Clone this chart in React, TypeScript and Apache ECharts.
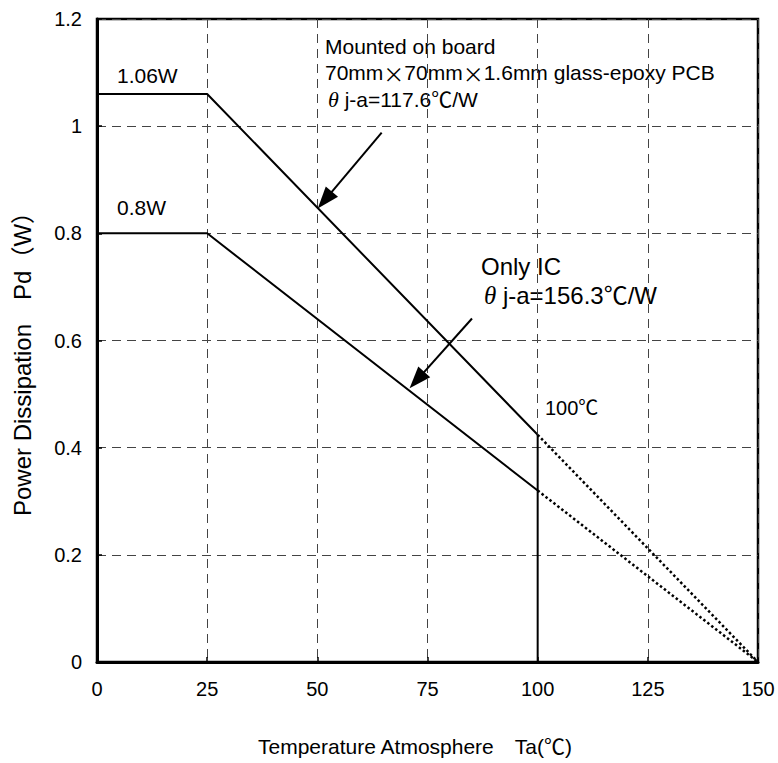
import React, { useEffect, useRef } from "react";
import * as echarts from "echarts";

// ---- data ----
const xTicks = [0, 25, 50, 75, 100, 125, 150];
const boardSolid: [number, number][] = [[0, 1.06], [25, 1.06], [100, 0.424]];
const boardDotted: [number, number][] = [[100, 0.424], [150, 0]];
const icSolid: [number, number][] = [[0, 0.8], [25, 0.8], [100, 0.32]];
const icDotted: [number, number][] = [[100, 0.32], [150, 0]];
const limitLine: [number, number][] = [[100, 0], [100, 0.424]];
// arrow: [start, centre of arrow head]
const boardArrow: [number, number][] = [[64.6, 0.988], [51.7, 0.862]];
const icArrow: [number, number][] = [[85.1, 0.641], [72.6, 0.526]];

const FONT = "'Liberation Sans', Arial, 'Noto Sans CJK JP', sans-serif";
const CJK = "'Noto Sans CJK JP', sans-serif";
const SERIF_I = "'Liberation Serif', serif";

export default function App() {
  const ref = useRef<HTMLDivElement>(null);
  useEffect(() => {
    document.body.style.margin = "0";
    if (!ref.current) return;
    const chart = echarts.init(ref.current, undefined, { renderer: "svg" });
    const solid = { color: "#000", width: 2, type: "solid" as const };
    const dotted = { color: "#000", width: 2.5, type: [2.5, 2.5] as any };
    chart.setOption({
      animation: false,
      backgroundColor: "#fff",
      textStyle: { fontFamily: FONT },
      grid: {
        left: 97,
        right: 20,
        top: 19,
        bottom: 101,
        show: true,
        borderColor: "#000",
        borderWidth: 2.5,
      },
      xAxis: {
        type: "value",
        min: 0,
        max: 150,
        interval: 25,
        axisLine: { show: true, lineStyle: { color: "#000", width: 3 } },
        axisTick: { show: true, inside: true, length: 5, lineStyle: { color: "#000", width: 1.5 } },
        axisLabel: { color: "#000", fontSize: 20, margin: 17, fontFamily: FONT,
          formatter: (v: number) => (xTicks.includes(v) ? String(v) : "") },
        splitLine: { show: true, lineStyle: { color: "#444", width: 1, type: [9, 6] } },
      },
      yAxis: {
        type: "value",
        min: 0,
        max: 1.2,
        interval: 0.2,
        axisLine: { show: true, lineStyle: { color: "#000", width: 3 } },
        axisTick: { show: true, inside: true, length: 5, lineStyle: { color: "#000", width: 1.5 } },
        axisLabel: { color: "#000", fontSize: 20, margin: 15, fontFamily: FONT },
        splitLine: { show: true, lineStyle: { color: "#444", width: 1, type: [9, 6] } },
      },
      series: [
        {
          type: "line", data: boardSolid, symbol: "none", lineStyle: solid, silent: true,
          markLine: {
            silent: true,
            symbol: ["none", "triangle"],
            symbolSize: [16, 22],
            label: { show: false },
            lineStyle: { color: "#000", width: 2, type: "solid" },
            data: [
              [{ coord: boardArrow[0] }, { coord: boardArrow[1] }],
              [{ coord: icArrow[0] }, { coord: icArrow[1] }],
            ],
          },
        },
        { type: "line", data: boardDotted, symbol: "none", lineStyle: dotted, silent: true },
        { type: "line", data: icSolid, symbol: "none", lineStyle: solid, silent: true },
        { type: "line", data: icDotted, symbol: "none", lineStyle: dotted, silent: true },
        { type: "line", data: limitLine, symbol: "none", lineStyle: solid, silent: true },
      ],
      graphic: [
        { type: "text", left: 117, top: 65, style: { text: "1.06W", font: `21px ${FONT}`, fill: "#000" } },
        { type: "text", left: 117, top: 197, style: { text: "0.8W", font: `21px ${FONT}`, fill: "#000" } },
        { type: "text", left: 325, top: 36, style: { text: "Mounted on board", font: `21px ${FONT}`, fill: "#000" } },
        {
          type: "text", left: 325, top: 62,
          style: {
            text: "70mm{x|×}70mm{x|×}1.6mm glass-epoxy PCB",
            font: `21px ${FONT}`, fill: "#000",
            rich: { x: { fontFamily: CJK, fontSize: 21, fill: "#000" } },
          } as any,
        },
        {
          type: "text", left: 328, top: 88,
          style: {
            text: "{t|θ} j-a=117.6℃/W", font: `21px ${FONT}`, fill: "#000",
            rich: { t: { fontFamily: SERIF_I, fontStyle: "italic", fontSize: 22, fill: "#000" } },
          } as any,
        },
        { type: "text", left: 481, top: 254, style: { text: "Only IC", font: `24px ${FONT}`, fill: "#000" } },
        {
          type: "text", left: 484, top: 283,
          style: {
            text: "{t|θ} j-a=156.3℃/W", font: `24px ${FONT}`, fill: "#000",
            rich: { t: { fontFamily: SERIF_I, fontStyle: "italic", fontSize: 25, fill: "#000" } },
          } as any,
        },
        { type: "text", left: 545, top: 398, style: { text: "100℃", font: `20px ${FONT}`, fill: "#000" } },
        {
          type: "text", x: 22, y: 358, rotation: Math.PI / 2,
          style: { text: "Power Dissipation　Pd（W）", font: `24px ${FONT}`, fill: "#000", align: "center", verticalAlign: "middle" },
        },
        {
          type: "text", left: 258, top: 736,
          style: { text: "Temperature Atmosphere　Ta(℃)", font: `21px ${FONT}`, fill: "#000" },
        },
      ],
    });
    return () => chart.dispose();
  }, []);
  return <div ref={ref} style={{ width: 778, height: 763 }} />;
}
